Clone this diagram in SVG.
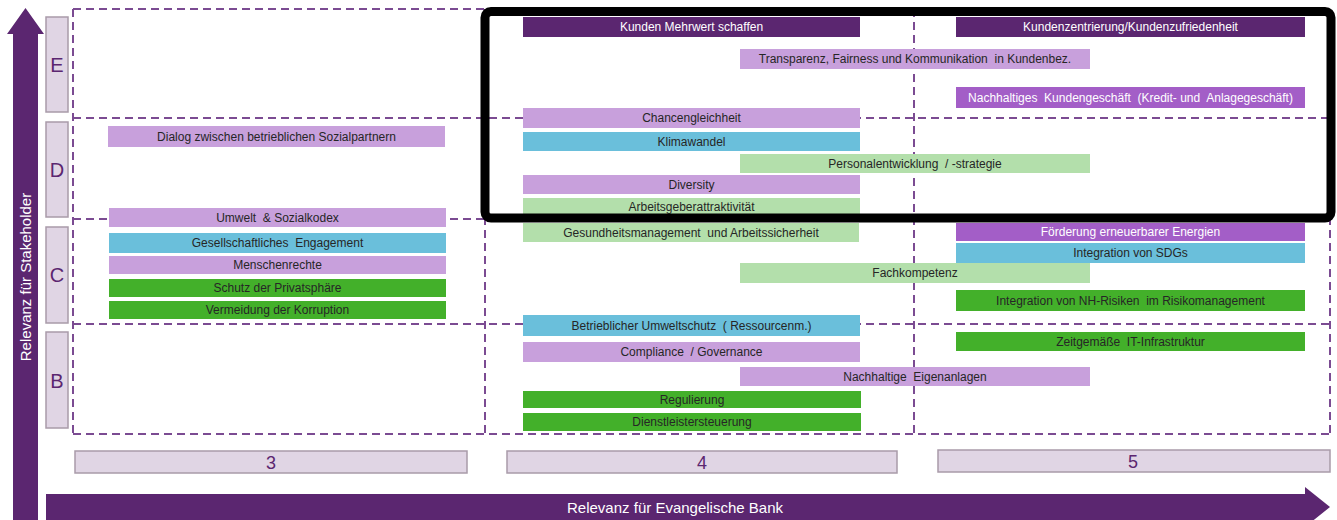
<svg xmlns="http://www.w3.org/2000/svg" width="1337" height="520" viewBox="0 0 1337 520">
  <style>
    .bar text { font-family: "Liberation Sans", Arial, sans-serif; font-size: 12px; text-anchor: middle; fill: #262626; }
    .bar.dark text, .bar.mid text { fill: #ffffff; }
    .dark rect { fill: #5b2670; }
    .mid rect { fill: #a35ec7; }
    .lp rect { fill: #c8a0dc; }
    .blue rect { fill: #6abfdb; }
    .green rect { fill: #43b02a; }
    .lg rect { fill: #b3dfab; }
    .grid line { stroke: #7b4b92; stroke-width: 2; stroke-dasharray: 8 5; }
    .tier rect { fill: #e0d5e4; stroke: #a99ba9; stroke-width: 1.5; }
    .tier text { font-family: "Liberation Sans", Arial, sans-serif; fill: #5b2670; text-anchor: middle; }
    .axis path { fill: #5b2670; }
    .axis text { font-family: "Liberation Sans", Arial, sans-serif; font-size: 15px; fill: #ffffff; text-anchor: middle; }
  </style>

  <rect width="1337" height="520" fill="#ffffff"/>

  <!-- dashed matrix grid -->
  <g id="connectors" class="grid">
    <line x1="73" y1="9" x2="1330" y2="9"/>
    <line x1="73" y1="118" x2="1330" y2="118"/>
    <line x1="73" y1="219" x2="1330" y2="219"/>
    <line x1="73" y1="324" x2="1330" y2="324"/>
    <line x1="73" y1="434" x2="1330" y2="434"/>
    <line x1="73" y1="9" x2="73" y2="434"/>
    <line x1="485" y1="9" x2="485" y2="434"/>
    <line x1="914" y1="9" x2="914" y2="434"/>
    <line x1="1330" y1="9" x2="1330" y2="434"/>
  </g>

  <!-- axes -->
  <g id="axis-stakeholder" class="axis">
    <path d="M13,34 H7 L25.5,8 L44,34 H38 V520 H13 Z"/>
    <text transform="translate(30.5,277) rotate(-90)">Relevanz für Stakeholder</text>
  </g>
  <g id="axis-bank" class="axis">
    <path d="M46,494 H1305 V487 L1330,507 L1305,527 V520 H46 Z"/>
    <text x="675" y="513">Relevanz für Evangelische Bank</text>
  </g>

  <!-- row tiers -->
  <g id="tier-E" class="tier"><rect x="46" y="17" width="22" height="95"/><text x="57" y="72" font-size="20">E</text></g>
  <g id="tier-D" class="tier"><rect x="46" y="122" width="22" height="95"/><text x="57" y="177" font-size="20">D</text></g>
  <g id="tier-C" class="tier"><rect x="46" y="227" width="22" height="96"/><text x="57" y="282" font-size="20">C</text></g>
  <g id="tier-B" class="tier"><rect x="46" y="332" width="22" height="96"/><text x="57" y="388" font-size="20">B</text></g>

  <!-- column tiers -->
  <g id="tier-3" class="tier"><rect x="75" y="451" width="392" height="22"/><text x="271" y="469" font-size="18">3</text></g>
  <g id="tier-4" class="tier"><rect x="507" y="451" width="390" height="22"/><text x="702" y="469" font-size="18">4</text></g>
  <g id="tier-5" class="tier"><rect x="938" y="450" width="392" height="22"/><text x="1133" y="468" font-size="18">5</text></g>

  <!-- column 3 topics -->
  <g id="dialog" class="bar lp"><rect x="108" y="126" width="337" height="21"/><text x="276.5" y="140.5">Dialog zwischen betrieblichen Sozialpartnern</text></g>
  <g id="sozialkodex" class="bar lp"><rect x="109" y="208" width="337" height="19"/><text x="277.5" y="221.5" xml:space="preserve">Umwelt  &amp; Sozialkodex</text></g>
  <g id="engagement" class="bar blue"><rect x="109" y="233" width="337" height="20"/><text x="277.5" y="247" xml:space="preserve">Gesellschaftliches  Engagement</text></g>
  <g id="menschenrechte" class="bar lp"><rect x="109" y="256" width="337" height="18"/><text x="277.5" y="269">Menschenrechte</text></g>
  <g id="privatsphaere" class="bar green"><rect x="109" y="279" width="337" height="18"/><text x="277.5" y="292">Schutz der Privatsphäre</text></g>
  <g id="korruption" class="bar green"><rect x="109" y="301" width="337" height="18"/><text x="277.5" y="314">Vermeidung der Korruption</text></g>

  <!-- column 4 topics -->
  <g id="mehrwert" class="bar dark"><rect x="523" y="17" width="337" height="20"/><text x="691.5" y="31">Kunden Mehrwert schaffen</text></g>
  <g id="chancengleichheit" class="bar lp"><rect x="523" y="108" width="337" height="20"/><text x="691.5" y="122">Chancengleichheit</text></g>
  <g id="klimawandel" class="bar blue"><rect x="523" y="132" width="337" height="19"/><text x="691.5" y="145.5">Klimawandel</text></g>
  <g id="diversity" class="bar lp"><rect x="523" y="175" width="337" height="19"/><text x="691.5" y="188.5">Diversity</text></g>
  <g id="arbeitgeber" class="bar lg"><rect x="523" y="198" width="337" height="19"/><text x="691.5" y="211">Arbeitsgeberattraktivität</text></g>
  <g id="gesundheit" class="bar lg"><rect x="523" y="223" width="336" height="19"/><text x="691" y="236.5" xml:space="preserve">Gesundheitsmanagement  und Arbeitssicherheit</text></g>
  <g id="umweltschutz" class="bar blue"><rect x="523" y="315" width="337" height="21"/><text x="691.5" y="329.5" xml:space="preserve">Betrieblicher Umweltschutz  ( Ressourcenm.)</text></g>
  <g id="compliance" class="bar lp"><rect x="523" y="342" width="337" height="20"/><text x="691.5" y="356" xml:space="preserve">Compliance  / Governance</text></g>
  <g id="regulierung" class="bar green"><rect x="523" y="391" width="338" height="17"/><text x="692" y="404">Regulierung</text></g>
  <g id="dienstleister" class="bar green"><rect x="523" y="413" width="338" height="18"/><text x="692" y="426">Dienstleistersteuerung</text></g>

  <!-- topics spanning columns 4 and 5 -->
  <g id="transparenz" class="bar lp"><rect x="740" y="49" width="350" height="20"/><text x="915" y="63" xml:space="preserve">Transparenz, Fairness und Kommunikation  in Kundenbez.</text></g>
  <g id="personal" class="bar lg"><rect x="740" y="154" width="350" height="19"/><text x="915" y="167.5" xml:space="preserve">Personalentwicklung  / -strategie</text></g>
  <g id="fachkompetenz" class="bar lg"><rect x="740" y="263" width="350" height="20"/><text x="915" y="277">Fachkompetenz</text></g>
  <g id="eigenanlagen" class="bar lp"><rect x="740" y="367" width="350" height="19"/><text x="915" y="380.5" xml:space="preserve">Nachhaltige  Eigenanlagen</text></g>

  <!-- column 5 topics -->
  <g id="kundenzentrierung" class="bar dark"><rect x="956" y="17" width="349" height="20"/><text x="1130.5" y="31">Kundenzentrierung/Kundenzufriedenheit</text></g>
  <g id="kundengeschaeft" class="bar mid"><rect x="956" y="87" width="349" height="21"/><text x="1130.5" y="101.5" xml:space="preserve">Nachhaltiges  Kundengeschäft  (Kredit- und  Anlagegeschäft)</text></g>
  <g id="energien" class="bar mid"><rect x="956" y="223" width="349" height="18"/><text x="1130.5" y="236">Förderung erneuerbarer Energien</text></g>
  <g id="sdgs" class="bar blue"><rect x="956" y="243" width="349" height="20"/><text x="1130.5" y="257">Integration von SDGs</text></g>
  <g id="nh-risiken" class="bar green"><rect x="956" y="290" width="349" height="21"/><text x="1130.5" y="304.5" xml:space="preserve">Integration von NH-Risiken  im Risikomanagement</text></g>
  <g id="it" class="bar green"><rect x="956" y="332" width="349" height="19"/><text x="1130.5" y="345.5" xml:space="preserve">Zeitgemäße  IT-Infrastruktur</text></g>

  <!-- highlight frame around the key topics -->
  <g id="highlight">
    <rect x="485" y="11.5" width="846" height="206.5" rx="6" ry="6" fill="none" stroke="#000000" stroke-width="9"/>
  </g>
</svg>
